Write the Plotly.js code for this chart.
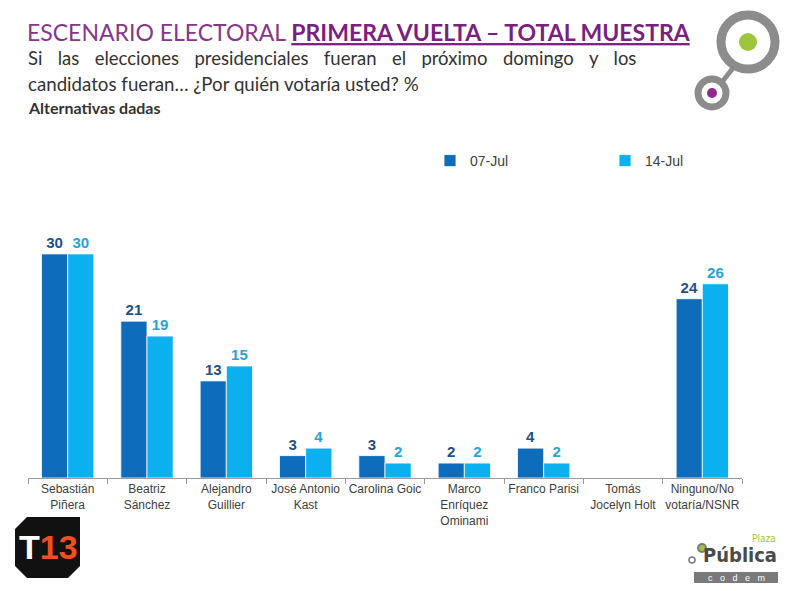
<!DOCTYPE html>
<html>
<head>
<meta charset="utf-8">
<script src="https://cdn.plot.ly/plotly-3.0.1.min.js"></script>
<style>html,body{margin:0;padding:0;background:#fff;}#chart{width:787px;height:591px;}</style>
</head>
<body>
<div id="chart"></div>
<script>
const categories = [
  "Sebastián<br>Piñera",
  "Beatriz<br>Sánchez",
  "Alejandro<br>Guillier",
  "José Antonio<br>Kast",
  "Carolina Goic",
  "Marco<br>Enríquez<br>Ominami",
  "Franco Parisi",
  "Tomás<br>Jocelyn Holt",
  "Ninguno/No<br>votaría/NSNR"
];
const seriesNames = ["07-Jul", "14-Jul"];
const jul07 = [30, 21, 13, 3, 3, 2, 4, null, 24];
const jul14 = [30, 19, 15, 4, 2, 2, 2, null, 26];

const darkBlue = "#0e6cbd";
const lightBlue = "#0bb0ee";
const labelFont = "Liberation Sans, Arial, sans-serif";
const calibri = "Lato, 'Open Sans', sans-serif";

const traces = [
  {
    type: "bar", name: seriesNames[0], x: categories, y: jul07, legend: "legend",
    marker: {color: darkBlue, line: {color: "#ffffff", width: 0.8}},
    texttemplate: "<b>%{y}</b>", textposition: "outside", cliponaxis: false,
    textfont: {family: labelFont, size: 15, color: "#1f4f8a"},
    hoverinfo: "skip"
  },
  {
    type: "bar", name: seriesNames[1], x: categories, y: jul14, legend: "legend2",
    marker: {color: lightBlue, line: {color: "#ffffff", width: 0.8}},
    texttemplate: "<b>%{y}</b>", textposition: "outside", cliponaxis: false,
    textfont: {family: labelFont, size: 15, color: "#2aa2d6"},
    hoverinfo: "skip"
  }
];

// plot area: x 28..742, y 190..478
const L = 28, R = 742, T = 190, B = 478;
const px = v => (v - L) / (R - L);
const py = v => (B - v) / (B - T);
const gap = " &nbsp;&nbsp;&#8202;";
const line1 = "Si las elecciones presidenciales fueran el próximo domingo y los".split(" ").join(gap);

const legendBase = {
  orientation: "h", xanchor: "left", y: py(161), yanchor: "middle",
  font: {family: labelFont, size: 14, color: "#404040"},
  itemwidth: 30, bgcolor: "rgba(0,0,0,0)"
};

const layout = {
  width: 787, height: 591,
  margin: {l: L, r: 787 - R, t: T, b: 591 - B, pad: 0},
  paper_bgcolor: "#ffffff", plot_bgcolor: "#ffffff",
  barmode: "group", bargap: 0.34, bargroupgap: 0,
  showlegend: true,
  legend: Object.assign({}, legendBase, {x: px(430)}),
  legend2: Object.assign({}, legendBase, {x: px(605)}),
  title: {
    text: "<span style='color:#86368c'>ESCENARIO ELECTORAL </span><b><u>PRIMERA VUELTA – TOTAL MUESTRA</u></b>",
    font: {family: calibri, size: 23, color: "#7b1f80"},
    x: 27 / 787, xanchor: "left", xref: "container",
    y: 1 - 33 / 591, yanchor: "middle", yref: "container"
  },
  xaxis: {
    type: "category", showline: true, linecolor: "#9a9a9a", linewidth: 1,
    ticks: "outside", tickson: "boundaries", ticklen: 5, tickcolor: "#9a9a9a",
    tickfont: {family: labelFont, size: 12, color: "#404040"}, tickangle: 0,
    showgrid: false, zeroline: false, fixedrange: true, automargin: false
  },
  yaxis: {visible: false, range: [0, (B - T) / 7.47], fixedrange: true},
  annotations: [
    {text: line1,
     xref: "paper", yref: "paper", x: px(26), y: py(58), xanchor: "left", yanchor: "middle",
     showarrow: false, font: {family: calibri, size: 18.5, color: "#333333"}},
    {text: "candidatos fueran… ¿Por quién votaría usted? %",
     xref: "paper", yref: "paper", x: px(26), y: py(84), xanchor: "left", yanchor: "middle",
     showarrow: false, font: {family: calibri, size: 18.7, color: "#333333"}},
    {text: "<b>Alternativas dadas</b>",
     xref: "paper", yref: "paper", x: px(26), y: py(107), xanchor: "left", yanchor: "middle",
     showarrow: false, font: {family: calibri, size: 16, color: "#333333"}},
    // T13 logo text
    {text: "<b><span style='color:#ffffff'>T</span><span style='color:#f0501e'>13</span></b>",
     xref: "paper", yref: "paper", x: px(48), y: py(547), xanchor: "center", yanchor: "middle",
     showarrow: false, font: {family: "Liberation Sans Narrow, Liberation Sans, sans-serif", size: 34, color: "#ffffff"}},
    // Plaza Pública logo text
    {text: "<b>Pública</b>",
     xref: "paper", yref: "paper", x: px(779), y: py(555), xanchor: "right", yanchor: "middle",
     showarrow: false, font: {family: "DejaVu Sans Condensed, DejaVu Sans, sans-serif", size: 20, color: "#4a4a4a"}},
    {text: "Plaza",
     xref: "paper", yref: "paper", x: px(778), y: py(538), xanchor: "right", yanchor: "middle",
     showarrow: false, font: {family: "DejaVu Sans Condensed, DejaVu Sans, sans-serif", size: 10, color: "#9cc63c"}},
    {text: "c   o   d   e   m",
     xref: "paper", yref: "paper", x: px(736), y: py(578), xanchor: "center", yanchor: "middle",
     showarrow: false, font: {family: labelFont, size: 9, color: "#ffffff"}}
  ],
  shapes: [
    // top-right logo: connector
    {type: "line", xref: "paper", yref: "paper", x0: px(722), y0: py(82), x1: px(733), y1: py(68),
     line: {color: "#8c8c8c", width: 5}, layer: "above"},
    // big ring
    {type: "circle", xref: "paper", yref: "paper", x0: px(748 - 27), x1: px(748 + 27), y0: py(42 - 27), y1: py(42 + 27),
     line: {color: "#8c8c8c", width: 9}, fillcolor: "#ffffff", layer: "above"},
    {type: "circle", xref: "paper", yref: "paper", x0: px(748 - 9), x1: px(748 + 9), y0: py(42 - 9), y1: py(42 + 9),
     line: {width: 0}, fillcolor: "#9cc63c", layer: "above"},
    // small ring
    {type: "circle", xref: "paper", yref: "paper", x0: px(712 - 14), x1: px(712 + 14), y0: py(93 - 14), y1: py(93 + 14),
     line: {color: "#8c8c8c", width: 7}, fillcolor: "#ffffff", layer: "above"},
    {type: "circle", xref: "paper", yref: "paper", x0: px(712 - 5), x1: px(712 + 5), y0: py(93 - 5), y1: py(93 + 5),
     line: {width: 0}, fillcolor: "#8e2a8e", layer: "above"},
    // T13 logo background
    {type: "path", xref: "paper", yref: "paper",
     path: (function () {
       const pts = [[27, 517], [80, 517], [80, 566], [68, 578], [27, 578], [15, 566], [15, 529]];
       return "M" + pts.map(p => px(p[0]) + "," + py(p[1])).join("L") + "Z";
     })(),
     fillcolor: "#111111", line: {width: 0}, layer: "below"},
    // codem bar
    {type: "rect", xref: "paper", yref: "paper", x0: px(694), x1: px(778), y0: py(572), y1: py(583),
     fillcolor: "#7a7a7a", line: {width: 0}, layer: "below"},
    // Plaza Pública icon dots
    {type: "circle", xref: "paper", yref: "paper", x0: px(698), x1: px(706), y0: py(544), y1: py(552),
     line: {color: "#7a7a7a", width: 2}, fillcolor: "#9cc63c", layer: "above"},
    {type: "circle", xref: "paper", yref: "paper", x0: px(689), x1: px(695), y0: py(557), y1: py(563),
     line: {color: "#7a7a7a", width: 1.5}, fillcolor: "#ffffff", layer: "above"}
  ]
};

Plotly.newPlot("chart", traces, layout, {displayModeBar: false, staticPlot: true});
</script>
</body>
</html>
